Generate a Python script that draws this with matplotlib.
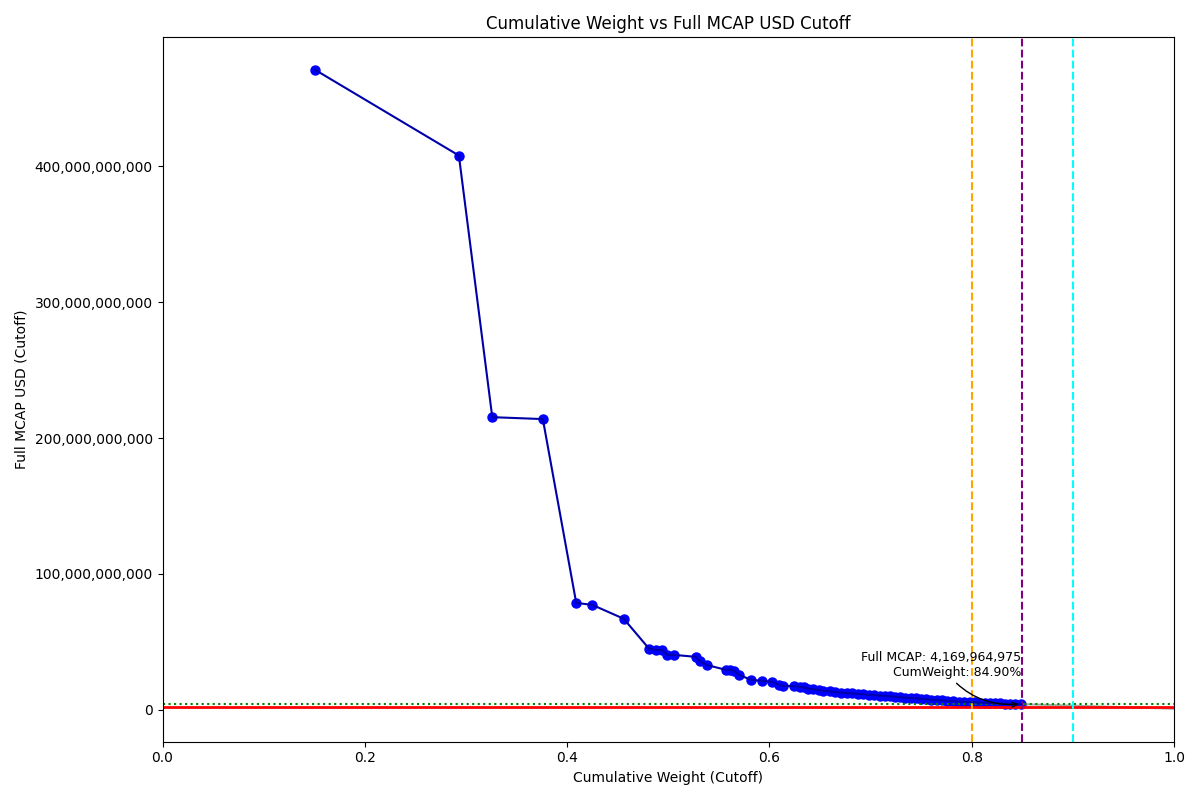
import matplotlib.pyplot as plt
from matplotlib.ticker import FuncFormatter

# cumulative weight vs full mcap cutoff
cum_weight = [0.151, 0.293, 0.326, 0.376, 0.409, 0.425, 0.456, 0.481, 0.488, 0.494,
              0.499, 0.506, 0.527, 0.531, 0.538, 0.557, 0.561, 0.565, 0.570, 0.582,
              0.593, 0.603, 0.609, 0.613, 0.624, 0.630, 0.634, 0.638, 0.643, 0.649,
              0.653, 0.660, 0.665, 0.671, 0.677, 0.682, 0.688, 0.693, 0.698, 0.703,
              0.709, 0.714, 0.719, 0.724, 0.729, 0.734, 0.740, 0.745, 0.750, 0.755,
              0.760, 0.766, 0.771, 0.776, 0.782, 0.787, 0.792, 0.798, 0.803, 0.808,
              0.813, 0.818, 0.823, 0.828, 0.833, 0.838, 0.843, 0.849]
mcap = [471e9, 408e9, 215.4e9, 214e9, 78.7e9, 77.2e9, 67e9, 45e9, 44e9, 44e9,
        40.4e9, 40.4e9, 39e9, 36e9, 33e9, 29.4e9, 29.4e9, 28.7e9, 25.7e9, 22e9,
        21.3e9, 20.6e9, 18.4e9, 17.6e9, 17.5e9, 17.0e9, 16.5e9, 15.6e9, 15.2e9, 14.6e9,
        14.0e9, 13.6e9, 13.0e9, 12.6e9, 12.3e9, 12.0e9, 11.7e9, 11.4e9, 11.1e9, 10.8e9,
        10.5e9, 10.2e9, 9.9e9, 9.6e9, 9.3e9, 9.0e9, 8.7e9, 8.4e9, 8.1e9, 7.8e9,
        7.5e9, 7.2e9, 6.9e9, 6.6e9, 6.4e9, 6.1e9, 5.9e9, 5.7e9, 5.5e9, 5.3e9,
        5.1e9, 4.95e9, 4.8e9, 4.65e9, 4.5e9, 4.4e9, 4.3e9, 4.17e9]
tail_x = [0.849, 1.0]
tail_y = [4.17e9, 0.8e9]

cutoff_value = 4169964975
cutoff_weight = 0.849
red_level = 1.8e9
vlines = [(0.80, 'orange'), (0.85, 'purple'), (0.90, 'cyan')]

fig, ax = plt.subplots(figsize=(12, 8))
ax.plot(cum_weight, mcap, 'o', color='blue', markersize=6.5, zorder=2)
ax.plot(cum_weight, mcap, '-', color='#0000aa', linewidth=1.5, zorder=3)
ax.plot(tail_x, tail_y, '-', color='gray', linewidth=1.5, alpha=0.7)
ax.axhline(red_level, color='red', linewidth=2)
ax.axhline(cutoff_value, color='green', linestyle=':', linewidth=1.5)
for xv, c in vlines:
    ax.axvline(xv, color=c, linestyle='--', linewidth=1.5)

ax.annotate(f'Full MCAP: {cutoff_value:,}\nCumWeight: {cutoff_weight*100:.2f}%',
            xy=(cutoff_weight, cutoff_value), xytext=(cutoff_weight, 23e9),
            ha='right', va='bottom', fontsize=9,
            arrowprops=dict(arrowstyle='->', connectionstyle='arc3,rad=0.3', color='black'))

ax.set_xlim(0, 1.0)
ax.set_ylim(-23.5e9, 495e9)
ax.yaxis.set_major_formatter(FuncFormatter(lambda v, p: f'{v:,.0f}'))
ax.set_xlabel('Cumulative Weight (Cutoff)')
ax.set_ylabel('Full MCAP USD (Cutoff)')
ax.set_title('Cumulative Weight vs Full MCAP USD Cutoff')
plt.tight_layout()
plt.savefig('out.png', dpi=100)
